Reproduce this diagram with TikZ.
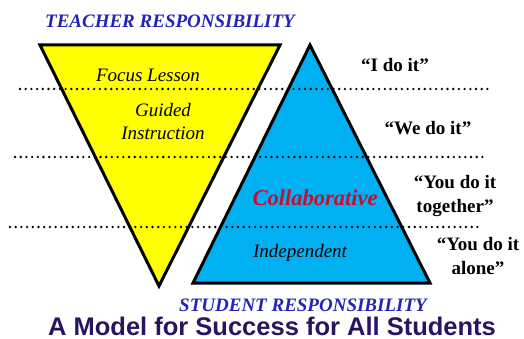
\documentclass[tikz,border=0pt]{standalone}
\usepackage{fontspec}
\setmainfont{Liberation Serif}
\setsansfont{Liberation Sans}
\usetikzlibrary{positioning}
\definecolor{lemon}{RGB}{255, 255, 0}
\definecolor{skyblue}{RGB}{0, 176, 240}
\definecolor{royal}{RGB}{35, 35, 185}
\definecolor{crimson}{RGB}{195, 15, 50}
\definecolor{navy}{RGB}{40, 20, 95}

\begin{document}
\begin{tikzpicture}[x=1pt, y=-1pt,
    stage/.style={font=\itshape\fontsize{19}{23}\selectfont, anchor=base, align=center},
    saying/.style={font=\bfseries\fontsize{19}{24}\selectfont, anchor=base, align=center},
    side/.style={font=\bfseries\itshape\fontsize{19}{20}\selectfont, text=royal, anchor=base},
    dots/.style={line width=2.6pt, dash pattern=on 0pt off 5.7pt, line cap=round}]
            \useasboundingbox (0,0) rectangle (524,339);
            \filldraw[black, fill=lemon,   line width=3pt]( 40.00,  45.00) -- (280.00,  45.00) -- (159.00, 286.00) -- cycle;
            \filldraw[black, fill=skyblue, line width=3pt](310.00,  45.00) -- (430.00, 283.00) -- (193.00, 283.00) -- cycle;
            \coordinate (d1w) at ( 20.00,  89.00); \coordinate (d1e) at (490.00,  89.00);
            \coordinate (d2w) at ( 15.00, 157.00); \coordinate (d2e) at (485.00, 157.00);
            \coordinate (d3w) at ( 10.00, 227.00); \coordinate (d3e) at (480.00, 227.00);
            \draw[dots] (d1w) -- (d1e);
            \draw[dots] (d2w) -- (d2e);
            \draw[dots] (d3w) -- (d3e);
            \node[side]   (teacher)  at (170.00,  28.00) {TEACHER RESPONSIBILITY};
            \node[stage]  (focus)    at (148.00,  82.00) {Focus Lesson};
            \node[stage]  (guided)   at (163.00, 140.00) {Guided\\Instruction};
            \node[stage, font=\bfseries\itshape\fontsize{22.5}{24}\selectfont, text=crimson]
                          (collab)   at (315.00, 205.00) {Collaborative};
            \node[stage]  (indep)    at (300.00, 257.00) {Independent};
            \node[saying] (ido)      at (395.00,  72.00) {``I do it''};
            \node[saying] (wedo)     at (428.00, 135.00) {``We do it''};
            \node[saying] (together) at (455.00, 212.00) {``You do it\\together''};
            \node[saying] (alone)    at (478.00, 274.00) {``You do it\\alone''};
            \node[side]   (student)  at (303.00, 311.00) {STUDENT RESPONSIBILITY};
            \node[anchor=base, text=navy, font=\sffamily\bfseries\fontsize{25.5}{27}\selectfont]
                          (title)    at (272.00, 335.00) {A Model for Success for All Students};
        \end{tikzpicture}
\end{document}
